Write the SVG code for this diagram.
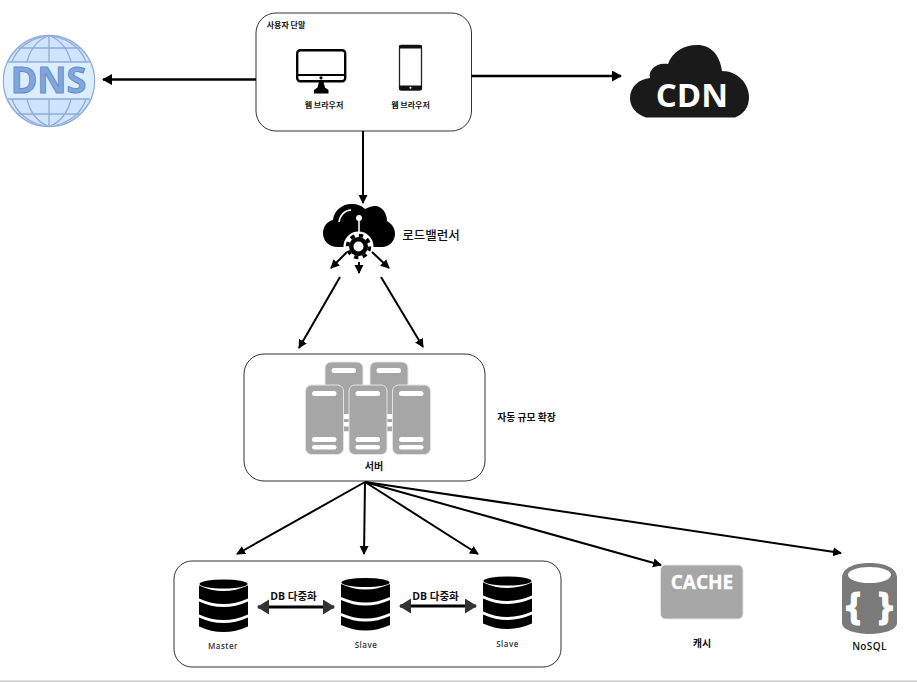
<svg xmlns="http://www.w3.org/2000/svg" width="917" height="682" viewBox="0 0 917 682">
<style>
text{font-family:"Open Sans","Noto Sans CJK KR",sans-serif;font-weight:700;text-anchor:middle;fill:#111}
.box{fill:#fff;stroke:#333;stroke-width:1}
.k{font-family:"Noto Sans CJK KR","Open Sans",sans-serif}
.conn line{stroke:#000;fill:none}
.t{stroke-width:2.6}
.m{stroke-width:2}
.sv{fill:#a6a6a6;stroke:#e4e4e4;stroke-width:1}
.sl{fill:#fff}
.dbl{stroke:#2b2b2b;stroke-width:3}
.glb{fill:none;stroke:#8fabdc;stroke-width:1.3}
</style>
<defs>
<marker id="ah" markerUnits="userSpaceOnUse" markerWidth="10" markerHeight="10" refX="8" refY="4.500" orient="auto"><path d="M0,0L9,4.500L0,9Z" fill="#000"/></marker>
<marker id="ab" markerUnits="userSpaceOnUse" markerWidth="12" markerHeight="12" refX="9" refY="5.500" orient="auto"><path d="M0,0L10,5.500L0,11Z" fill="#000"/></marker>
<marker id="dd" markerUnits="userSpaceOnUse" markerWidth="14" markerHeight="16" refX="11" refY="7.500" orient="auto-start-reverse"><path d="M0,0L12,7.500L0,15Z" fill="#333"/></marker>
<clipPath id="gc"><circle cx="49" cy="81" r="45"/></clipPath>
<g id="dbi"><ellipse cx="24.500" cy="4.500" rx="24" ry="4.500"/><path d="M0,6Q24.500,17 49,6V19Q24.500,30 0,19Z"/><path d="M0,22Q24.500,33 49,22V35Q24.500,46 0,35Z"/><path d="M0,38Q24.500,49 49,38V47Q24.500,58 0,47Z"/></g>
<g id="srv"><rect class="sv" x="0" y="0" width="38" height="69.500" rx="6"/><rect class="sl" x="6.500" y="6" width="24.500" height="5" rx="2.500"/><rect class="sl" x="6.500" y="52" width="24.500" height="5" rx="2.500"/><rect class="sl" x="6.500" y="60" width="24.500" height="4.500" rx="2.200"/></g>
</defs>
<rect width="917" height="682" fill="#fff"/>
<rect x="0" y="680.500" width="917" height="1.500" fill="#c8c8c8"/>

<g id="dns">
<circle cx="49" cy="81" r="45.500" fill="#cfe5ff" stroke="#8fabdc" stroke-width="1.500"/>
<rect x="0" y="62" width="98" height="37" fill="#dcedff" clip-path="url(#gc)"/>
<path class="glb" clip-path="url(#gc)" d="M0,62H98M0,99H98M0,48H98M0,114H98M49,35.500V62M49,99V126.500M49,35.500C37,40 30,50 27,62M49,35.500C61,40 68,50 71,62M49,126.500C37,122 30,112 27,99M49,126.500C61,122 68,112 71,99M49,35.500C28,38 16,50 12,62M49,35.500C70,38 82,50 86,62M49,126.500C28,124 16,112 12,99M49,126.500C70,124 82,112 86,99"/>
<text x="48.500" y="92.500" font-size="36" style="fill:#7ea6e0;stroke:#6c8ebf;stroke-width:1">DNS</text>
</g>

<g id="user">
<rect class="box" x="256" y="13" width="215.500" height="118" rx="20"/>
<text class="k" x="286" y="27.500" font-size="8">사용자 단말</text>
<rect x="297.200" y="50.200" width="48" height="31" rx="3" fill="#fff" stroke="#000" stroke-width="2.400"/>
<path d="M297,75H345" stroke="#000" stroke-width="2.200"/>
<circle cx="321" cy="77.800" r="1.600"/>
<path d="M319,82H323.500L325,87.500L328.500,90V93.500H314V90L317.500,87.500Z"/>
<rect x="399.500" y="45.500" width="22" height="44.500" rx="2" fill="#fff" stroke="#222" stroke-width="1.300"/>
<rect x="399" y="45" width="23" height="3.500" rx="1.200" fill="#111"/>
<rect x="399" y="85.500" width="23" height="4.500" rx="1.200" fill="#111"/>
<circle cx="410.500" cy="87.800" r="1" fill="#fff"/>
<text class="k" x="324" y="108" font-size="8">웹 브라우저</text>
<text class="k" x="410.500" y="108" font-size="8">웹 브라우저</text>
</g>

<g id="cdn">
<path fill="#1a1a1a" d="M646,117.500C636,114 630,107 630,98C630,87 639,79 650,78C648,70 656,62 668,64C672,52 684,45 697,45C711,45 720,55 722,71C738,71 749,84 749,97C749,107 744,114 735,117.500Z"/>
<text x="692" y="107" font-size="33" style="fill:#fff">CDN</text>
</g>

<g id="loadbalancer">
<path d="M338,247C329,247 323,241 323,233C323,226 328,221 333,220C334,210 343,204 351,204C358,204 362,206 365,209C369,207 372,206 375,206C382,206 387,213 387,221C392,224 395,228 395,234C395,241 389,247 382,247Z"/>
<path d="M339,222C340,215 345,210 351,210" fill="none" stroke="#fff" stroke-width="1.600"/>
<path d="M359,218V236" stroke="#fff" stroke-width="1.600"/>
<circle cx="359" cy="218" r="3" fill="#fff"/>
<circle cx="358.500" cy="246.500" r="15" fill="#fff"/>
<circle cx="358.500" cy="246.500" r="9.500" fill="#000"/>
<circle cx="358.500" cy="246.500" r="11" fill="none" stroke="#000" stroke-width="3.500" stroke-dasharray="4.300 4.340"/>
<circle cx="358.500" cy="246.500" r="5" fill="#fff"/>
<text class="k" x="431" y="240" font-size="12.500" style="font-weight:500">로드밸런서</text>
</g>

<g id="servers">
<rect class="box" x="244" y="354" width="241" height="127" rx="20"/>
<use href="#srv" x="325" y="362"/>
<use href="#srv" x="370" y="362"/>
<use href="#srv" x="305.500" y="385"/>
<use href="#srv" x="349" y="385"/>
<use href="#srv" x="392.500" y="385"/>
<text class="k" x="374" y="470" font-size="10">서버</text>
</g>
<g id="autoscale"><text class="k" x="526.500" y="420.500" font-size="9.800">자동 규모 확장</text></g>

<g id="dbcluster">
<rect class="box" x="174" y="561" width="387" height="106" rx="18"/>
<use href="#dbi" x="199" y="579.500"/>
<use href="#dbi" x="341" y="578"/>
<use href="#dbi" x="483" y="576.500"/>
<text x="223" y="649" font-size="8" letter-spacing=".5" style="fill:#333;font-weight:600">Master</text>
<text x="366" y="648" font-size="8" letter-spacing=".5" style="fill:#333;font-weight:600">Slave</text>
<text x="507.500" y="647" font-size="8" letter-spacing=".5" style="fill:#333;font-weight:600">Slave</text>
<text x="293.500" y="599.500" font-size="10.500">DB 다중화</text>
<text x="435.500" y="599.500" font-size="10.500">DB 다중화</text>
</g>

<g id="cache">
<rect x="660.500" y="565" width="82.500" height="54" rx="5" fill="#a6a6a6" stroke="#e4e4e4"/>
<text x="702" y="588.500" font-size="19" style="fill:#fff;stroke:#fff;stroke-width:.3">CACHE</text>
<text class="k" x="702" y="647" font-size="10">캐시</text>
</g>

<g id="nosql">
<path fill="#7a7a7a" d="M842,578C842,567 856,563 869.500,563C883,563 897,567 897,578V623C897,630 883,634 869.500,634C856,634 842,630 842,623Z"/>
<ellipse cx="869.500" cy="575" rx="21.500" ry="8" fill="#fff"/>
<text x="853.500" y="619" font-size="38" style="fill:#fff;stroke:#fff;stroke-width:1">{</text>
<text x="885.500" y="619" font-size="38" style="fill:#fff;stroke:#fff;stroke-width:1">}</text>
<text x="869.500" y="650" font-size="10" letter-spacing=".4" style="font-weight:600">NoSQL</text>
</g>

<g id="connectors" class="conn">
<line class="t" x1="256" y1="79.500" x2="103" y2="79.500" marker-end="url(#ab)"/>
<line class="t" x1="471.500" y1="76" x2="621" y2="76" marker-end="url(#ab)"/>
<line class="m" x1="363" y1="131" x2="363" y2="203" marker-end="url(#ah)"/>
<line class="m" x1="347" y1="252" x2="331" y2="268" marker-end="url(#ah)"/>
<line class="m" x1="359" y1="262" x2="359" y2="273" marker-end="url(#ah)"/>
<line class="m" x1="372" y1="252" x2="389" y2="268" marker-end="url(#ah)"/>
<line class="m" x1="340" y1="277" x2="299" y2="348" marker-end="url(#ah)"/>
<line class="m" x1="381" y1="277" x2="423" y2="347" marker-end="url(#ah)"/>
<line class="m" x1="365" y1="482" x2="237" y2="554" marker-end="url(#ah)"/>
<line class="m" x1="365" y1="482" x2="364" y2="554" marker-end="url(#ah)"/>
<line class="m" x1="365" y1="482" x2="478" y2="554" marker-end="url(#ah)"/>
<line class="m" x1="365" y1="482" x2="661" y2="565" marker-end="url(#ah)"/>
<line class="m" x1="365" y1="482" x2="841" y2="553" marker-end="url(#ah)"/>
<line class="dbl" x1="258" y1="607" x2="334" y2="607" marker-start="url(#dd)" marker-end="url(#dd)"/>
<line class="dbl" x1="400" y1="606" x2="476" y2="606" marker-start="url(#dd)" marker-end="url(#dd)"/>
</g>
</svg>
